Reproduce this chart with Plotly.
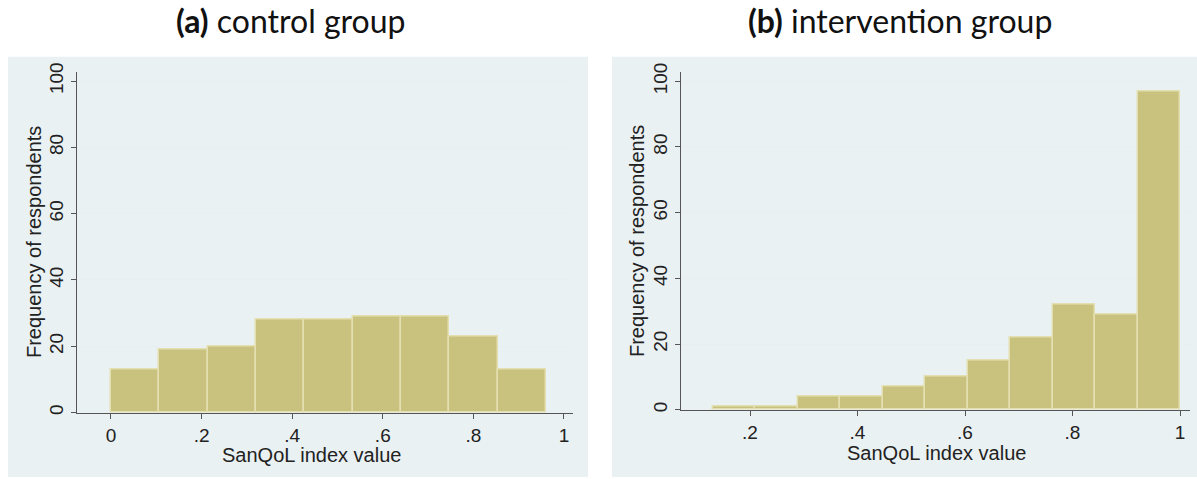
import plotly.graph_objects as go

# ---- data ----
control_counts = [13, 19, 20, 28, 28, 29, 29, 23, 13]
control_bin_start = 0.0
control_bin_width = 0.1067

interv_counts = [1, 1, 4, 4, 7, 10, 15, 22, 32, 29, 97]
interv_bin_start = 0.131
interv_bin_width = 0.079

control_ticks = [0, 0.2, 0.4, 0.6, 0.8, 1.0]
control_ticklabels = ["0", ".2", ".4", ".6", ".8", "1"]
interv_ticks = [0.2, 0.4, 0.6, 0.8, 1.0]
interv_ticklabels = [".2", ".4", ".6", ".8", "1"]
y_ticks = [0, 20, 40, 60, 80, 100]

W, H = 1197, 479
BAR = "#c9c27f"
BAR_EDGE = "#e4dfb0"
PANEL = "#eaf1f3"
GRID = "#e9eff1"
AX = "#555555"

def centers(start, width, n):
    return [start + width * (i + 0.5) for i in range(n)]

fig = go.Figure()
fig.add_trace(go.Bar(
    x=centers(control_bin_start, control_bin_width, len(control_counts)),
    y=control_counts, width=control_bin_width,
    marker=dict(color=BAR, line=dict(color=BAR_EDGE, width=1.5)),
    xaxis="x", yaxis="y", showlegend=False))
fig.add_trace(go.Bar(
    x=centers(interv_bin_start, interv_bin_width, len(interv_counts)),
    y=interv_counts, width=interv_bin_width,
    marker=dict(color=BAR, line=dict(color=BAR_EDGE, width=1.5)),
    xaxis="x2", yaxis="y2", showlegend=False))

def px(x):
    return x / W

def py(y):
    return 1 - y / H

tickfont = dict(family="Liberation Sans, Arial, sans-serif", size=19, color="#222222")
titlefont = dict(family="Liberation Sans, Arial, sans-serif", size=20, color="#222222")

common_x = dict(showline=True, linecolor=AX, linewidth=1.2, ticks="outside",
                ticklen=5, tickcolor=AX, showgrid=False, zeroline=False,
                tickfont=tickfont)
common_y = dict(showline=True, linecolor=AX, linewidth=1.2, ticks="outside",
                ticklen=5, tickcolor=AX, showgrid=True, gridcolor=GRID,
                gridwidth=1, zeroline=False, tickangle=-90,
                tickfont=tickfont,
                tickvals=y_ticks, ticktext=[str(v) for v in y_ticks])

def label(text, x, y, angle=0, font=titlefont):
    return dict(text=text, xref="paper", yref="paper", x=px(x), y=py(y),
                xanchor="center", yanchor="middle", showarrow=False,
                textangle=angle, font=font)

head_font = dict(family="Lato, Open Sans, sans-serif", size=32, color="#111111")

fig.update_layout(
    width=W, height=H,
    margin=dict(l=0, r=0, t=0, b=0),
    paper_bgcolor="white",
    plot_bgcolor="white",
    bargap=0,
    xaxis=dict(domain=[px(77), px(573)], range=[-0.075, 1.0199],
               tickvals=control_ticks, ticktext=control_ticklabels,
               anchor="y", **common_x),
    yaxis=dict(domain=[py(413), py(64)], range=[0, 102.6],
               anchor="x", **common_y),
    xaxis2=dict(domain=[px(681), px(1190)], range=[0.0716, 1.0186],
                tickvals=interv_ticks, ticktext=interv_ticklabels,
                anchor="y2", **common_x),
    yaxis2=dict(domain=[py(410), py(64)], range=[0, 102.7],
                anchor="x2", **common_y),
    shapes=[
        dict(type="rect", xref="paper", yref="paper", layer="below",
             x0=px(8), x1=px(588), y0=0, y1=py(48),
             fillcolor=PANEL, line=dict(width=0)),
        dict(type="rect", xref="paper", yref="paper", layer="below",
             x0=px(612), x1=1, y0=0, y1=py(48),
             fillcolor=PANEL, line=dict(width=0)),
    ],
    annotations=[
        label("<b>(a)</b> control group", 291, 11, font=head_font),
        label("<b>(b)</b> intervention group", 900, 11, font=head_font),
        label("SanQoL index value", 311, 456),
        label("SanQoL index value", 936, 454),
        label("Frequency of respondents", 34, 238, angle=-90),
        label("Frequency of respondents", 637, 237, angle=-90),
    ],
)

fig.write_html("out.html", config={"displayModeBar": False},
               post_script="document.body.style.margin='0';document.body.style.overflow='hidden';")
